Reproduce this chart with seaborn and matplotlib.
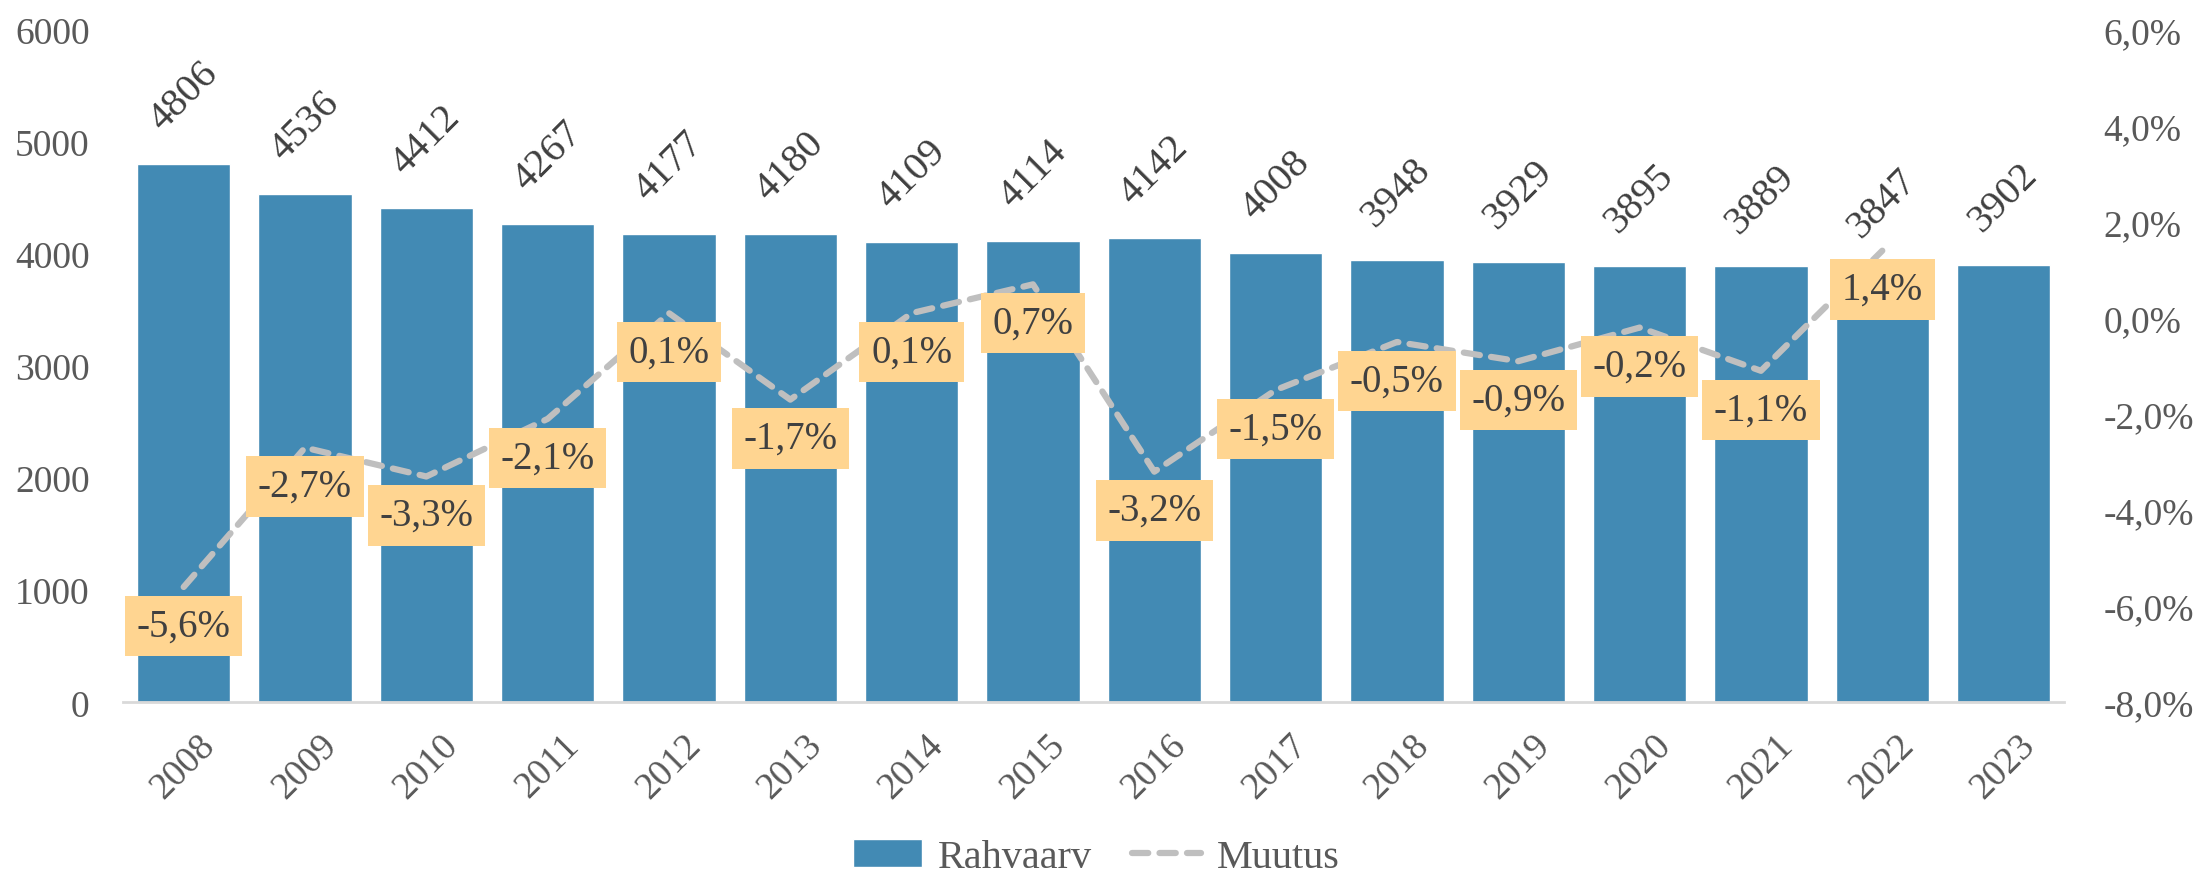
import matplotlib
matplotlib.use("Agg")
import matplotlib.pyplot as plt
import seaborn as sns
import pandas as pd
from matplotlib.ticker import FuncFormatter, MultipleLocator
from matplotlib.lines import Line2D
from matplotlib.patches import Patch

# Data
years = [str(y) for y in range(2008, 2024)]
population = [4806, 4536, 4412, 4267, 4177, 4180, 4109, 4114, 4142,
              4008, 3948, 3929, 3895, 3889, 3847, 3902]
change_years = years[:15]
change_pct = [-5.6, -2.7, -3.3, -2.1, 0.1, -1.7, 0.1, 0.7, -3.2,
              -1.5, -0.5, -0.9, -0.2, -1.1, 1.4]

bar_color = '#428AB4'
line_color = '#BFBFBF'
box_color = '#FFD591'
tick_color = '#595959'
label_color = '#404040'
fs = 27

sns.set_theme(style="white")
plt.rcParams['font.family'] = ['Liberation Serif', 'DejaVu Serif']


def pct(v):
    return f"{v:.1f}%".replace('.', ',')


fig = plt.figure(figsize=(21.93, 8.78), dpi=100)
ax = fig.add_axes([0.0561, 0.199, 0.8852, 0.766])

pop_df = pd.DataFrame({'year': years, 'pop': population})
sns.barplot(data=pop_df, x='year', y='pop', color=bar_color, saturation=1,
            width=0.77, ax=ax)
ax.set_xlim(-0.5, len(years) - 0.5)
ax.set_ylim(0, 6000)
ax.yaxis.set_major_locator(MultipleLocator(1000))
ax.set_xlabel('')
ax.set_ylabel('')

for i, v in enumerate(population):
    ax.annotate(str(v), (i, v), xytext=(0, 19), textcoords='offset points',
                rotation=45, ha='center', va='bottom', fontsize=fs + 2, color=label_color)

# Secondary axis: yearly change
ax2 = ax.twinx()
chg_df = pd.DataFrame({'pos': range(len(change_years)), 'chg': change_pct})
sns.lineplot(data=chg_df, x='pos', y='chg', color=line_color, lw=4.5,
             dashes=False, ax=ax2)
ax2.lines[0].set_dashes((2.6, 1.8))
ax2.lines[0].set_dash_capstyle('round')
ax2.set_ylim(-8, 6)
ax2.yaxis.set_major_locator(MultipleLocator(2))
ax2.yaxis.set_major_formatter(FuncFormatter(lambda v, p: pct(v)))
ax2.set_xlabel('')
ax2.set_ylabel('')
ax2.set_xlim(-0.5, len(years) - 0.5)

for i, v in enumerate(change_pct):
    ax2.annotate(pct(v), (i, v), xytext=(0, -28), textcoords='offset points',
                 ha='center', va='center', fontsize=fs + 1, color=label_color,
                 bbox=dict(boxstyle='square,pad=0.3', fc=box_color, ec='none'))

# Styling
for s in ['top', 'left', 'right']:
    ax.spines[s].set_visible(False)
    ax2.spines[s].set_visible(False)
ax2.spines['bottom'].set_visible(False)
ax.spines['bottom'].set_color('#D9D9D9')
ax.spines['bottom'].set_linewidth(2)

ax.tick_params(axis='y', length=0, labelsize=fs, labelcolor=tick_color, pad=24)
ax.tick_params(axis='x', length=0, labelsize=fs, labelcolor=tick_color, pad=18)
ax2.tick_params(axis='y', length=0, labelsize=fs, labelcolor=tick_color, pad=28)
for t in ax.get_xticklabels():
    t.set_rotation(45)
    t.set_ha('center')

handles = [Patch(facecolor=bar_color, label='Rahvaarv'),
           Line2D([0], [0], color=line_color, lw=4.5, dashes=(2.6, 1.8),
                  dash_capstyle='round', label='Muutus')]
leg = fig.legend(handles=handles, loc='lower center', bbox_to_anchor=(0.5, -0.04),
                 ncol=2, frameon=False, fontsize=fs + 2, handlelength=1.7,
                 columnspacing=1.0, handletextpad=0.4)
for t in leg.get_texts():
    t.set_color(tick_color)

fig.savefig('out.png', dpi=100)
